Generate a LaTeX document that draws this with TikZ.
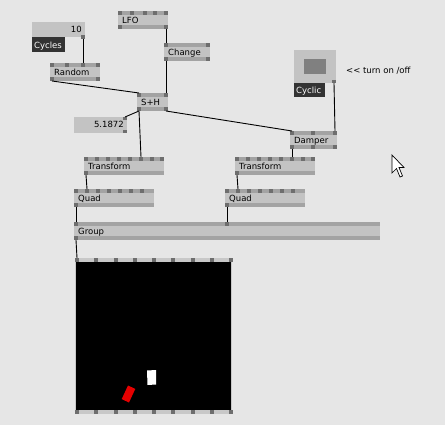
\documentclass[tikz,border=0pt]{standalone}
\usepackage{fontspec}
\setmainfont{DejaVu Sans}
\definecolor{bggray}{RGB}{230,230,230}
\definecolor{nodebody}{RGB}{195,195,195}
\definecolor{nodestripe}{RGB}{163,163,163}
\definecolor{pingray}{RGB}{110,110,110}
\definecolor{labeldark}{RGB}{51,51,51}
\definecolor{togglegray}{RGB}{128,128,128}
\definecolor{rendframe}{RGB}{200,200,200}

\tikzset{
  vbody/.style={fill=nodebody},
  vstripe/.style={fill=nodestripe},
  vpin/.style={fill=pingray},
  vtext/.style={font=\fontsize{8.5}{10}\selectfont, inner sep=0pt},
  wire/.style={draw=black, line width=0.9pt},
}

% vvvv node: name, x, y, width, label, input pin offsets, output pin offsets
\newcommand{\vnode}[7]{%
  \fill[vstripe] (#2,#3) rectangle ++(#4,18);
  \fill[vbody] (#2,#3+4) rectangle ++(#4,10);
  \node[vtext, anchor=base west] (#1) at (#2+4,#3+12.3) {#5};
  \foreach \px [count=\k] in {#6} {
    \fill[vpin] (#2+\px,#3) rectangle ++(4,4);
    \coordinate (#1-i\k) at (#2+\px+2,#3);
  }
  \foreach \px [count=\k] in {#7} {
    \fill[vpin] (#2+\px,#3+14) rectangle ++(4,4);
    \coordinate (#1-o\k) at (#2+\px+2,#3+18);
  }
}

\begin{document}
\begin{tikzpicture}[x=1pt, y=-1pt]

  % Background
  \fill[bggray] (0,0) rectangle (445,425);
  \useasboundingbox (0,0) rectangle (445,425);

  % Cycles IOBox
  \fill[vbody] (32,22) rectangle (85,37);
  \node[vtext, anchor=base east] (cyclesval) at (82,32.3) {10};
  \fill[vpin] (81,35) rectangle (85,39);
  \coordinate (cyclesval-o1) at (83,39);
  \fill[labeldark] (32,37) rectangle (65,52);
  \node[vtext, anchor=base west, text=white] (cycles) at (34,48.7) {Cycles};

  % Nodes
  \vnode{lfo}{118}{11}{50}{LFO}{0,12,25,35,46}{0,46}
  \vnode{change}{164}{43}{46}{Change}{0,42}{0,42}
  \vnode{random}{50}{63}{50}{Random}{0,15,31,46}{0,46}
  \vnode{sh}{137}{93}{31}{S+H}{0,27}{0,27}
  \vnode{damper}{290}{131}{47}{Damper}{0,21,43}{0,21,43}
  \vnode{transforml}{84}{157}{80}{Transform}{0,11,22,33,44,55,66,76}{0}
  \vnode{transformr}{235}{157}{80}{Transform}{0,11,22,33,44,55,66,76}{0}
  \vnode{quadl}{74}{189}{80}{Quad}{0,11,22,33,44,55,66}{0}
  \vnode{quadr}{225}{189}{80}{Quad}{0,11,22,33,44,55,66}{0}
  \vnode{group}{74}{222}{306}{Group}{0,151}{0}

  % S+H output IOBox
  \fill[vbody] (74,117) rectangle (127,133);
  \fill[vpin] (123,117) rectangle (127,120);
  \fill[vpin] (123,130) rectangle (127,133);
  \coordinate (shval-i1) at (125,117);
  \node[vtext, anchor=base east] (shval) at (124,127.7) {5.1872};

  % Cyclic toggle
  \fill[vbody] (294,50) rectangle (336,83);
  \fill[togglegray] (304,59) rectangle (326,74);
  \fill[vpin] (332,80) rectangle (336,83);
  \coordinate (cyclic-o1) at (334,83);
  \fill[labeldark] (294,83) rectangle (325,97);
  \node[vtext, anchor=base west, text=white] (cyclic) at (296,94) {Cyclic};
  \node[vtext, anchor=base west] (hint) at (346,73.7) {<\kern0pt< turn on /off};

  % Renderer
  \fill[rendframe] (75,258) rectangle (232,414);
  \fill[black] (76,262) rectangle (231,410);
  \foreach \k in {0,...,8} {
    \fill[vpin] (75+\k*19.25,258) rectangle ++(4,4);
    \fill[vpin] (75+\k*19.25,410) rectangle ++(4,4);
  }
  \coordinate (renderer-i1) at (77,258);
  \fill[white] (147,370.5) -- (156,370) -- (156,384.5) -- (147.5,385) -- cycle;
  \fill[red!90!black] (135.3,388.9) -- (128.0,385.5) -- (121.7,399.1) -- (129.0,402.5) -- cycle;

  % Links
  \draw[wire] (cyclesval-o1) -- (random-i3);
  \draw[wire] (lfo-o2) -- (change-i1);
  \draw[wire] (change-o1) -- (sh-i2);
  \draw[wire] (random-o1) -- (sh-i1);
  \draw[wire] (sh-o1) -- (shval-i1);
  \draw[wire] (sh-o1) -- (transforml-i6);
  \draw[wire] (sh-o2) -- (damper-i1);
  \draw[wire] (cyclic-o1) -- (damper-i3);
  \draw[wire] (damper-o1) -- (transformr-i6);
  \draw[wire] (transforml-o1) -- (quadl-i2);
  \draw[wire] (transformr-o1) -- (quadr-i2);
  \draw[wire] (quadl-o1) -- (group-i1);
  \draw[wire] (quadr-o1) -- (group-i2);
  \draw[wire] (group-o1) -- (renderer-i1);

  % Mouse pointer
  \filldraw[fill=white, draw=black, line width=0.7pt]
    (392,155) -- (392,173) -- (396.5,168.5) -- (400,177) -- (402.5,176) -- (399,167.5) -- (404,167.5) -- cycle;

\end{tikzpicture}
\end{document}
